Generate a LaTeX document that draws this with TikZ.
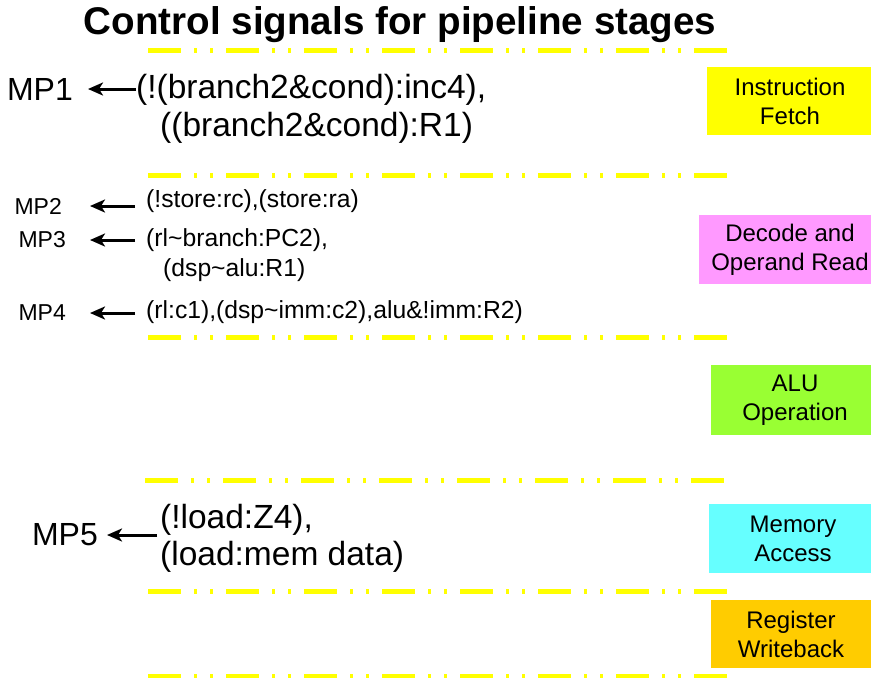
\documentclass[tikz,border=0pt]{standalone}
\usepackage{fontspec}
\setmainfont{Liberation Sans}
\usetikzlibrary{arrows.meta}
\definecolor{sepyellow}{HTML}{FFFF00}
\definecolor{ifcol}{HTML}{FFFF00}
\definecolor{deccol}{HTML}{FF99FF}
\definecolor{alucol}{HTML}{99FF33}
\definecolor{memcol}{HTML}{66FFFF}
\definecolor{rwcol}{HTML}{FFCC00}
\begin{document}
\begin{tikzpicture}[x=1pt,y=-1pt,
  sepline/.style={draw=sepyellow, line width=5pt, dash pattern=on 33pt off 13pt on 3pt off 13pt on 3pt off 13pt},
  bigtext/.style={font=\fontsize{33.5}{38}\selectfont, inner sep=0pt, anchor=west},
  smalltext/.style={font=\fontsize{24.7}{28}\selectfont, inner sep=0pt, anchor=west},
  biglabel/.style={font=\fontsize{32}{38}\selectfont, inner sep=0pt, anchor=east},
  smalllabel/.style={font=\fontsize{23}{28}\selectfont, inner sep=0pt, anchor=east},
  stage/.style={font=\fontsize{24}{29}\selectfont, align=center, inner sep=0pt, minimum height=68pt},
  arr/.style={-{Stealth[length=15pt,width=13pt,inset=4pt]}, line width=3pt}
]
\clip (0,0) rectangle (871,678);
\fill[white] (0,0) rectangle (871,678);

% title
\node[font=\bfseries\fontsize{38.6}{40}\selectfont, inner sep=0pt] (title) at (400,25) {Control signals for pipeline stages};

% separator lines
\draw[sepline] (148,50) -- (737,50);
\draw[sepline] (148,175) -- (737,175);
\draw[sepline] (148,337) -- (737,337);
\draw[sepline] (145,480) -- (737,480);
\draw[sepline] (148,591) -- (737,591);
\draw[sepline] (148,676) -- (737,676);

% stage boxes
\node[stage, fill=ifcol, minimum width=166pt] (ifbox) at (790,101) {Instruction\\Fetch};
\node[stage, fill=deccol, minimum width=182pt, minimum height=69pt] (decbox) at (790,249.5) {Decode and\\Operand Read};
\node[stage, fill=alucol, minimum width=168pt, minimum height=70pt] (alubox) at (795,400) {ALU\\Operation};
\node[stage, fill=memcol, minimum width=168pt, minimum height=69pt] (membox) at (793,538.5) {Memory\\Access};
\node[stage, fill=rwcol, minimum width=160pt] (rwbox) at (791,634) {Register\\Writeback};

% MP1
\node[biglabel] (mp1) at (73,89) {MP1};
\node[bigtext] (t1a) at (136,90) {(!(branch2\&cond):inc4),};
\node[bigtext] (t1b) at (160,128) {((branch2\&cond):R1)};
\draw[arr, shorten >=15pt] (mp1.east -| t1a.west) -- (mp1.east);

% MP2
\node[smalllabel] (mp2) at (62,206) {MP2};
\node[smalltext] (t2) at (146,201) {(!store:rc),(store:ra)};
\draw[arr, shorten >=28pt, shorten <=11pt] (mp2.east -| t2.west) -- (mp2.east);

% MP3
\node[smalllabel] (mp3) at (66,240) {MP3};
\node[smalltext] (t3a) at (146,240) {(rl\textasciitilde branch:PC2),};
\node[smalltext] (t3b) at (163,270) {(dsp\textasciitilde alu:R1)};
\draw[arr, shorten >=24pt, shorten <=11pt] (mp3.east -| t3a.west) -- (mp3.east);

% MP4
\node[smalllabel] (mp4) at (66,313) {MP4};
\node[smalltext] (t4) at (146,312) {(rl:c1),(dsp\textasciitilde imm:c2),alu\&!imm:R2)};
\draw[arr, shorten >=24pt, shorten <=11pt] (mp4.east -| t4.west) -- (mp4.east);

% MP5
\node[biglabel] (mp5) at (98,535) {MP5};
\node[bigtext] (t5a) at (160,520) {(!load:Z4),};
\node[bigtext] (t5b) at (160,557) {(load:mem data)};
\draw[arr, shorten >=9pt, shorten <=3pt] (mp5.east -| t5a.west) -- (mp5.east);
\end{tikzpicture}
\end{document}
